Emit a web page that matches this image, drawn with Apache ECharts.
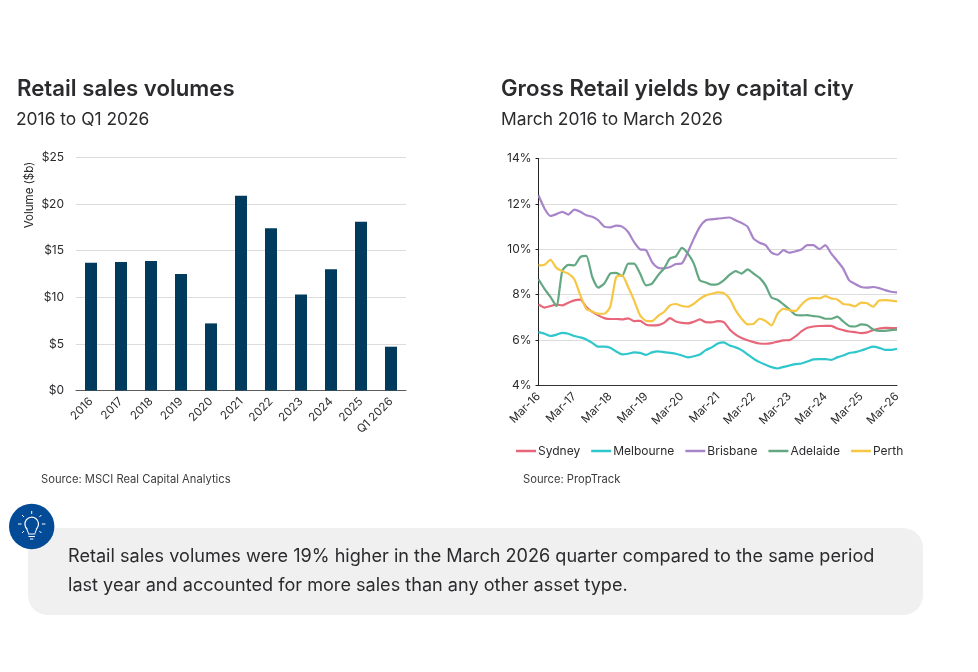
<!DOCTYPE html>
<html>
<head>
<meta charset="utf-8">
<title>Retail sales volumes and yields</title>
<script src="https://cdn.jsdelivr.net/npm/echarts@6/dist/echarts.min.js"></script>
<style>
html,body{margin:0;padding:0;background:#fff}
#chart{width:978px;height:672px}
</style>
</head>
<body>
<div id="chart"></div>
<script>
// Annual retail sales volumes, $b
const volumeYears = ['2016','2017','2018','2019','2020','2021','2022','2023','2024','2025','Q1 2026'];
const volumeValues = [13.7,13.8,13.9,12.5,7.2,20.9,17.4,10.3,13.0,18.1,4.7];

// Gross yields by city, %, one reading every two months
const yieldPeriods = [
  'Mar-16','May-16','Jul-16','Sep-16','Nov-16','Jan-17',
  'Mar-17','May-17','Jul-17','Sep-17','Nov-17','Jan-18',
  'Mar-18','May-18','Jul-18','Sep-18','Nov-18','Jan-19',
  'Mar-19','May-19','Jul-19','Sep-19','Nov-19','Jan-20',
  'Mar-20','May-20','Jul-20','Sep-20','Nov-20','Jan-21',
  'Mar-21','May-21','Jul-21','Sep-21','Nov-21','Jan-22',
  'Mar-22','May-22','Jul-22','Sep-22','Nov-22','Jan-23',
  'Mar-23','May-23','Jul-23','Sep-23','Nov-23','Jan-24',
  'Mar-24','May-24','Jul-24','Sep-24','Nov-24','Jan-25',
  'Mar-25','May-25','Jul-25','Sep-25','Nov-25','Jan-26',
  'Mar-26'
];
const sydney = [7.57,7.43,7.5,7.56,7.53,7.65,7.75,7.78,7.46,7.24,7.09,6.97,6.93,6.93,6.91,6.96,6.84,6.85,6.68,6.65,6.66,6.76,6.97,6.82,6.76,6.74,6.81,6.91,6.79,6.78,6.84,6.79,6.47,6.24,6.09,5.99,5.91,5.85,5.84,5.87,5.93,5.99,6.0,6.16,6.38,6.54,6.6,6.62,6.63,6.63,6.51,6.44,6.38,6.35,6.31,6.34,6.44,6.51,6.54,6.53,6.53];
const melbourne = [6.35,6.28,6.18,6.24,6.32,6.28,6.18,6.12,6.03,5.88,5.71,5.71,5.66,5.5,5.37,5.4,5.46,5.44,5.35,5.46,5.5,5.47,5.44,5.4,5.32,5.24,5.29,5.37,5.56,5.68,5.85,5.9,5.76,5.68,5.56,5.37,5.18,5.03,4.91,4.81,4.75,4.82,4.88,4.94,4.97,5.06,5.15,5.16,5.16,5.13,5.24,5.32,5.43,5.47,5.54,5.63,5.71,5.66,5.57,5.57,5.62];
const brisbane = [12.38,11.8,11.47,11.55,11.65,11.53,11.75,11.65,11.5,11.43,11.28,11.0,10.97,11.04,11.0,10.76,10.32,10.0,9.96,9.44,9.19,9.16,9.22,9.35,9.38,9.88,10.47,10.99,11.28,11.32,11.35,11.38,11.4,11.28,11.16,10.99,10.47,10.29,10.18,9.85,9.76,9.96,9.85,9.91,9.99,10.18,10.18,10.01,10.18,9.81,9.49,9.15,8.63,8.47,8.34,8.31,8.34,8.29,8.2,8.13,8.1];
const adelaide = [8.68,8.26,7.9,7.5,9.07,9.31,9.29,9.66,9.71,8.78,8.31,8.49,8.93,8.96,8.82,9.37,9.37,8.93,8.41,8.49,8.85,9.15,9.59,9.69,10.06,9.81,9.37,8.63,8.54,8.44,8.46,8.63,8.88,9.04,8.93,9.12,8.93,8.74,8.41,7.87,7.78,7.57,7.35,7.12,7.09,7.1,7.06,7.03,6.94,6.94,7.03,6.82,6.62,6.6,6.69,6.65,6.47,6.41,6.41,6.44,6.46];
const perth = [9.29,9.32,9.53,9.18,9.03,8.93,8.68,7.97,7.38,7.26,7.16,7.16,7.46,8.78,8.85,8.34,7.75,7.09,6.85,6.84,7.06,7.24,7.53,7.59,7.5,7.47,7.6,7.82,7.97,8.04,8.1,8.07,7.82,7.31,6.94,6.69,6.72,6.94,6.84,6.65,7.16,7.38,7.32,7.28,7.56,7.79,7.85,7.84,7.94,7.84,7.79,7.59,7.56,7.49,7.65,7.62,7.47,7.74,7.76,7.74,7.71];

const cityNames = ['Sydney','Melbourne','Brisbane','Adelaide','Perth'];
const cityValues = [sydney, melbourne, brisbane, adelaide, perth];
const cityColours = ['#e8667a','#2fc6cc','#a884c9','#63a882','#f6c744'];

const FONT = 'Inter, "Open Sans", sans-serif';
const INK = '#2b2b2e';
const GLOW = '#ffffff';

function text(x, y, str, size, weight, fill, extra) {
  return Object.assign({
    type: 'text', x, y,
    style: { text: str, fontSize: size, fontWeight: weight, fill, fontFamily: FONT, textVerticalAlign: 'middle' }
  }, extra || {});
}

function ray(x1, y1, x2, y2) {
  return { type: 'line', shape: { x1, y1, x2, y2 }, style: { stroke: GLOW, lineWidth: 1 }, z: 12 };
}

const chart = echarts.init(document.getElementById('chart'), null, { renderer: 'canvas' });
chart.setOption({
  animation: false,
  backgroundColor: '#fff',
  grid: [
    { left: 76, right: 572, top: 157.5, height: 233 },
    { left: 538.5, right: 81, top: 158.5, height: 227 }
  ],
  xAxis: [
    {
      type: 'category', gridIndex: 0, data: volumeYears,
      axisTick: { show: false },
      axisLine: { lineStyle: { color: '#5c5c5c', width: 1 } },
      axisLabel: { rotate: 45, interval: 0, color: INK, fontSize: 11.5, fontFamily: FONT, margin: 9 }
    },
    {
      type: 'category', gridIndex: 1, data: yieldPeriods, boundaryGap: false,
      axisTick: { show: false },
      axisLine: { lineStyle: { color: '#333', width: 1 } },
      axisLabel: { rotate: 45, interval: 5, color: INK, fontSize: 11.5, fontFamily: FONT, margin: 9 }
    }
  ],
  yAxis: [
    {
      type: 'value', gridIndex: 0, min: 0, max: 25, interval: 5,
      axisLine: { show: false }, axisTick: { show: false },
      splitLine: { lineStyle: { color: '#dcdcdc', width: 1 } },
      axisLabel: { formatter: '${value}', color: INK, fontSize: 12, fontFamily: FONT, margin: 12 }
    },
    {
      type: 'value', gridIndex: 1, min: 4, max: 14, interval: 2,
      axisLine: { show: true, lineStyle: { color: '#222', width: 1 } },
      axisTick: { show: true, length: 3, lineStyle: { color: '#222' } },
      splitLine: { lineStyle: { color: '#dcdcdc', width: 1 } },
      axisLabel: { formatter: '{value}%', color: INK, fontSize: 12, fontFamily: FONT, margin: 7 }
    }
  ],
  legend: {
    left: 511, top: 440, icon: 'rect', itemWidth: 20, itemHeight: 2.5, itemGap: 11,
    data: cityNames,
    textStyle: { color: INK, fontSize: 12, fontFamily: FONT, padding: [0, 0, 0, -3] }
  },
  series: [
    {
      type: 'bar', name: 'Volume', xAxisIndex: 0, yAxisIndex: 0, data: volumeValues,
      barWidth: '40%', itemStyle: { color: '#003a5d' }
    }
  ].concat(cityNames.map((name, i) => ({
    type: 'line', name, xAxisIndex: 1, yAxisIndex: 1, data: cityValues[i],
    showSymbol: false, symbol: 'none', smooth: 0.2,
    lineStyle: { color: cityColours[i], width: 2.2 },
    itemStyle: { color: cityColours[i] }
  }))),
  graphic: [
    text(17, 89, 'Retail sales volumes', 22.2, 600, INK),
    text(16, 120, '2016 to Q1 2026', 17.4, 400, INK),
    text(501, 89, 'Gross Retail yields by capital city', 22.2, 600, INK),
    text(501, 120, 'March 2016 to March 2026', 17.4, 400, INK),
    text(30, 195, 'Volume ($b)', 11.5, 400, INK, {
      rotation: Math.PI / 2,
      style: { text: 'Volume ($b)', fontSize: 11.5, fill: INK, fontFamily: FONT, textAlign: 'center', textVerticalAlign: 'middle' }
    }),
    text(41, 480, 'Source: MSCI Real Capital Analytics', 11.2, 400, '#3c3c3c'),
    text(523, 480, 'Source: PropTrack', 11.2, 400, '#3c3c3c'),
    { type: 'rect', shape: { x: 28, y: 528, width: 895, height: 87, r: 20 }, style: { fill: '#f0f0f0' }, z: 5 },
    text(68, 557, 'Retail sales volumes were 19% higher in the March 2026 quarter compared to the same period', 18.1, 400, INK, { z: 6 }),
    text(68, 586, 'last year and accounted for more sales than any other asset type.', 18.1, 400, INK, { z: 6 }),
    // Light-bulb badge
    { type: 'circle', shape: { cx: 31.7, cy: 526.5, r: 22.7 }, style: { fill: '#034b96' }, z: 10 },
    { type: 'arc', shape: { cx: 31.7, cy: 524, r: 6.8, startAngle: Math.PI * 0.72, endAngle: Math.PI * 0.28, clockwise: true }, style: { stroke: GLOW, lineWidth: 1.2, fill: 'none' }, z: 12 },
    ray(26.8, 529, 28.5, 533.5), ray(36.6, 529, 34.9, 533.5),
    ray(28, 534, 35.4, 534), ray(28.5, 536.5, 34.9, 536.5), ray(30, 539, 33.4, 539),
    ray(31.7, 511, 31.7, 514), ray(22, 515, 24, 517), ray(41.4, 515, 39.4, 517),
    ray(18, 524, 21.5, 524), ray(41.9, 524, 45.4, 524), ray(22, 533, 24, 531), ray(41.4, 533, 39.4, 531)
  ]
});
</script>
</body>
</html>
